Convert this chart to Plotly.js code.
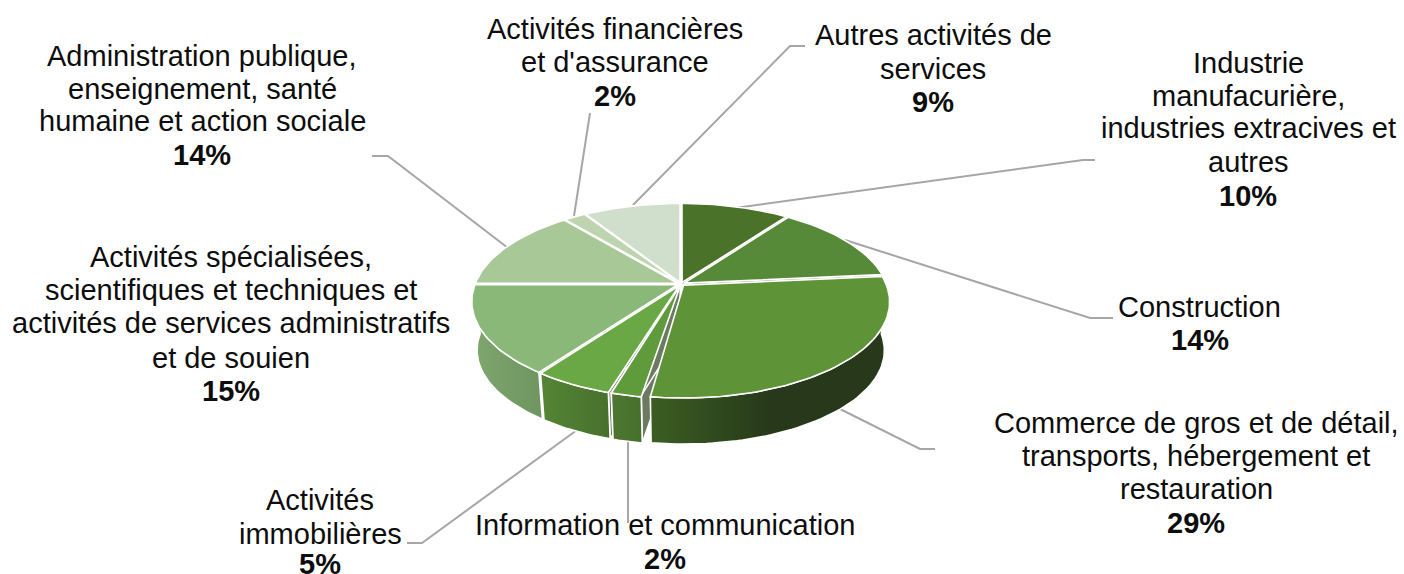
<!DOCTYPE html>
<html>
<head>
<meta charset="utf-8">
<script src="https://cdn.plot.ly/plotly-3.0.1.min.js"></script>
<style>html,body{margin:0;padding:0;background:#fff;overflow:hidden}#chart{width:1404px;height:574px}</style>
</head>
<body>
<div id="chart"></div>
<script>
// --- data ---
const categories = [
  "Industrie manufacurière, industries extracives et autres",
  "Construction",
  "Commerce de gros et de détail, transports, hébergement et restauration",
  "Information et communication",
  "Activités immobilières",
  "Activités spécialisées, scientifiques et techniques et activités de services administratifs et de souien",
  "Administration publique, enseignement, santé humaine et action sociale",
  "Activités financières et d'assurance",
  "Autres activités de services"
];
// slice sizes (the printed labels are rounded)
const shares = [10, 13.5, 28.7, 2.5, 5.3, 15, 14, 2, 9];
const percentLabels = ["10%", "14%", "29%", "2%", "5%", "15%", "14%", "2%", "9%"];
const labelText = [
  ["Industrie", "manufacurière,", "industries extracives et", "autres"],
  ["Construction"],
  ["Commerce de gros et de détail,", "transports, hébergement et", "restauration"],
  ["Information et communication"],
  ["Activités", "immobilières"],
  ["Activités spécialisées,", "scientifiques et techniques et", "activités de services administratifs", "et de souien"],
  ["Administration publique,", "enseignement, santé", "humaine et action sociale"],
  ["Activités financières", "et d'assurance"],
  ["Autres activités de", "services"]
];

// --- styles ---
const topColors = ["#4a7229","#578a38","#5e9338","#5f9a3b","#6aa845","#8ab878","#a8c898","#bdd4ae","#d0dfcb"];
const wallColors = [
  ["#3a5a20","#3a5a20"],["#3f6426","#3f6426"],["#3b5e22","#27391a"],["#4d7630","#48702d"],
  ["#548536","#48702d"],["#7ea66d","#6f9560"],["#88a97a","#88a97a"],["#9ab58c","#9ab58c"],["#a9bfa0","#a9bfa0"]
];
// visual inset of each slice's start and end edge, degrees
const insetStart = [0, 0, 0, 1.2, 0, 0, 0, 0, 0];
const insetEnd = [0, 0, 0, 0.5, 0, 0, 0, 0, 0];

// --- label layout ---
const labelX = [1248, 1199.5, 1196, 664.5, 320, 231, 202, 614.5, 933];
const labelY = [
  [63, 96, 128, 162, 196],
  [307, 340],
  [423, 456, 489, 523],
  [525, 559],
  [500, 534, 564],
  [257, 290, 323, 358, 391],
  [56, 89, 121, 155],
  [29, 62, 96],
  [35, 69, 102]
];
const leaders = [
  "M1095,160 L1083,160 L735,208",
  "M1113,318 L1090,318 L845,240",
  "M935,449 L920,449 L838,408",
  "M628,440 L628,523",
  "M407,543 L422,543 L577,430",
  "M372,156 L388,156 L508,248",
  "M590,113 L574,216",
  "M805,46 L790,46 L633,205"
];

// --- projection of the tilted pie, viewed in perspective ---
const cx = 681, cy = 284, Rx = 202.5, Ry = 93, persp = 0.171;
const depth = 49, baseScale = 0.975, explode = 0.018;

function project(a, b, base) {
  const s = (base ? baseScale : 1) / (1 + persp * b);
  return [cx + Rx * a * s, cy + (base ? depth : 0) - Ry * b * s];
}
function arc(t1, t2, off, base) {
  const pts = [], n = Math.max(2, Math.ceil(Math.abs(t2 - t1) / 1.5));
  for (let i = 0; i <= n; i++) {
    const t = (t1 + (t2 - t1) * i / n) * Math.PI / 180;
    pts.push(project(Math.sin(t) + off[0], Math.cos(t) + off[1], base));
  }
  return pts;
}
function poly(pts, fill, name) {
  const closed = pts.concat([pts[0]]);
  return Object.assign({
    type: "scatter", mode: "lines", x: closed.map(p => p[0]), y: closed.map(p => p[1]),
    fill: "toself", line: {color: "#ffffff", width: 1.6}, name: name,
    hoverinfo: "name", showlegend: false
  }, fill);
}

const total = shares.reduce((a, b) => a + b, 0);
let acc = 0;
const slices = shares.map((v, i) => {
  const t1 = acc / total * 360 + insetStart[i]; acc += v; const t2 = acc / total * 360 - insetEnd[i];
  const mid = (t1 + t2) / 2 * Math.PI / 180;
  return {i, t1, t2, off: [explode * Math.sin(mid), explode * Math.cos(mid)], b: Math.cos(mid)};
}).sort((p, q) => q.b - p.b);

const faces = [], walls = [], tops = [];
slices.forEach(s => {
  const name = categories[s.i];
  const wall = wallColors[s.i];
  const apexT = project(s.off[0], s.off[1], false), apexB = project(s.off[0], s.off[1], true);
  [s.t1, s.t2].forEach(t => {
    const e1 = arc(t, t, s.off, false)[0], e2 = arc(t, t, s.off, true)[0];
    faces.push(poly([apexT, e1, e2, apexB], {fillcolor: "#6d7a62"}, name));
  });
  const a = Math.max(s.t1, 90), b = Math.min(s.t2, 270);
  if (b > a) {
    const pts = arc(a, b, s.off, false).concat(arc(b, a, s.off, true));
    const colorscale = s.t1 + s.t2 > 360
      ? [[0, wall[0]], [1, wall[1]]]
      : [[0, wall[0]], [0.5, wall[1]], [1, wall[1]]];
    walls.push(poly(pts, {fillgradient: {type: "horizontal", colorscale}}, name));
  }
  tops.push(poly([apexT].concat(arc(s.t1, s.t2, s.off, false)), {fillcolor: topColors[s.i]}, name));
});
const traces = faces.concat(walls, tops);

const annotations = [];
labelText.forEach((lines, i) => {
  lines.concat(["<b>" + percentLabels[i] + "</b>"]).forEach((t, j) => annotations.push({
    xref: "x", yref: "y", x: labelX[i], y: labelY[i][j], xanchor: "center", yanchor: "middle",
    showarrow: false, align: "center", text: t,
    font: {family: "Liberation Sans, Arial, sans-serif", size: 29, color: "#0d0d0d"}
  }));
});

const shapes = leaders.map(p => ({
  type: "path", xref: "x", yref: "y", path: p, layer: "below",
  line: {color: "#a6a6a6", width: 2}
}));

Plotly.newPlot("chart", traces, {
  width: 1404, height: 574,
  margin: {l: 0, r: 0, t: 0, b: 0},
  paper_bgcolor: "#ffffff", plot_bgcolor: "#ffffff",
  xaxis: {range: [0, 1404], visible: false, fixedrange: true},
  yaxis: {range: [574, 0], visible: false, fixedrange: true},
  showlegend: false, annotations, shapes
}, {displayModeBar: false, responsive: false});
</script>
</body>
</html>
